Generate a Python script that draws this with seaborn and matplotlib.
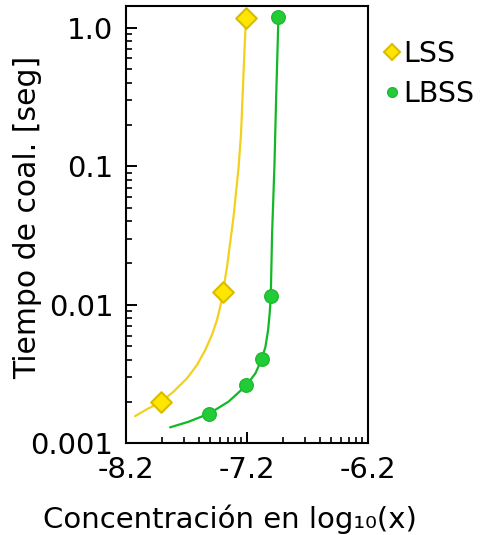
import numpy as np
import pandas as pd
import matplotlib
matplotlib.use("Agg")
import matplotlib.pyplot as plt
import seaborn as sns
from matplotlib.ticker import FixedLocator, FixedFormatter, NullFormatter
from matplotlib.lines import Line2D

# Measured points (x in log10 concentration, y in seconds)
lss_x = [-7.912, -7.398, -7.207]
lss_y = [0.00198, 0.0123, 1.17]
lbss_x = [-7.511, -7.204, -7.077, -7.002, -6.939]
lbss_y = [0.00164, 0.00262, 0.00404, 0.0116, 1.19]

# Fitted curves
lss_fit_x = [-8.125, -8.028, -7.912, -7.807, -7.696, -7.613, -7.544, -7.489, -7.447,
             -7.414, -7.398, -7.364, -7.310, -7.268, -7.248, -7.231, -7.217, -7.207]
lss_fit_y = [0.00157, 0.00176, 0.00198, 0.00236, 0.00294, 0.00367, 0.00472, 0.00605, 0.00776,
             0.01025, 0.0123, 0.0188, 0.0433, 0.0993, 0.173, 0.397, 0.773, 1.17]
lbss_fit_x = [-7.835, -7.683, -7.511, -7.351, -7.204, -7.129, -7.077, -7.046, -7.024,
              -7.011, -7.002, -6.991, -6.972, -6.958, -6.944, -6.939]
lbss_fit_y = [0.001304, 0.00143, 0.00164, 0.00200, 0.00262, 0.00320, 0.00404, 0.00498, 0.00658,
              0.00869, 0.0116, 0.0328, 0.0993, 0.301, 0.817, 1.19]

x_major = [-8.2, -7.2, -6.2]
x_labels = ["-8.2", "-7.2", "-6.2"]
y_major = [1.0, 0.1, 0.01, 0.001]
y_labels = ["1.0", "0.1", "0.01", "0.001"]
series = ["LSS", "LBSS"]

YEL_LINE = "#F2D01E"
YEL_FILL = "#FFE600"
YEL_EDGE = "#D9BC00"
GRN_LINE = "#12B826"
GRN_FILL = "#22CC36"
GRN_EDGE = "#1DBB30"

sns.set_theme(style="white")
plt.rcParams['font.family'] = ['DejaVu Sans']
plt.rcParams['text.color'] = 'black'

FS = 21

fig = plt.figure(figsize=(4.81, 5.35), dpi=100)
ax = fig.add_axes([126/481, 1 - 443.3/535, (367.7 - 126)/481, (443.3 - 6)/535])

df_lss_fit = pd.DataFrame({"x": lss_fit_x, "y": lss_fit_y})
df_lbss_fit = pd.DataFrame({"x": lbss_fit_x, "y": lbss_fit_y})
sns.lineplot(data=df_lss_fit, x="x", y="y", sort=False, estimator=None,
             color=YEL_LINE, linewidth=1.6, ax=ax)
sns.lineplot(data=df_lbss_fit, x="x", y="y", sort=False, estimator=None,
             color=GRN_LINE, linewidth=1.6, ax=ax)

df_lss = pd.DataFrame({"x": lss_x, "y": lss_y})
df_lbss = pd.DataFrame({"x": lbss_x, "y": lbss_y})
sns.scatterplot(data=df_lss, x="x", y="y", marker="D", s=110, color=YEL_FILL,
                edgecolor=YEL_EDGE, linewidth=1.5, ax=ax, zorder=5)
sns.scatterplot(data=df_lbss, x="x", y="y", marker="o", s=95, color=GRN_FILL,
                edgecolor=GRN_EDGE, linewidth=1.0, ax=ax, zorder=5)

ax.set_yscale("log")
ax.set_xlim(-8.2, -6.2)
ax.set_ylim(0.001, 10 ** 0.157)

ax.xaxis.set_major_locator(FixedLocator(x_major))
ax.xaxis.set_major_formatter(FixedFormatter(x_labels))
minor_x = [m + np.log10(k) for m in x_major[:-1] for k in range(2, 10)]
ax.xaxis.set_minor_locator(FixedLocator(minor_x))
ax.xaxis.set_minor_formatter(NullFormatter())

ax.yaxis.set_major_locator(FixedLocator(y_major))
ax.yaxis.set_major_formatter(FixedFormatter(y_labels))
minor_y = [d * k for d in [0.001, 0.01, 0.1] for k in range(2, 10)]
ax.yaxis.set_minor_locator(FixedLocator(minor_y))
ax.yaxis.set_minor_formatter(NullFormatter())

ax.tick_params(axis="both", which="major", direction="in", length=8, width=1.4,
               labelsize=FS, pad=9, color="black", labelcolor="black",
               bottom=True, left=True, top=False, right=False)
ax.tick_params(axis="both", which="minor", direction="in", length=4, width=1.2,
               color="black", bottom=True, left=True, top=False, right=False)

for sp in ax.spines.values():
    sp.set_visible(True)
    sp.set_color("black")
    sp.set_linewidth(1.5)

ax.set_xlabel("Concentración en log₁₀(x)", fontsize=FS, color="black")
ax.xaxis.set_label_coords(0.43, -0.141)
ax.set_ylabel("Tiempo de coal. [seg]", fontsize=21.5, color="black")
ax.yaxis.set_label_coords(-0.3475, 0.516)

handles = [
    Line2D([], [], linestyle="none", marker="D", markersize=8,
           markerfacecolor=YEL_FILL, markeredgecolor=YEL_EDGE, markeredgewidth=1.5),
    Line2D([], [], linestyle="none", marker="o", markersize=7,
           markerfacecolor=GRN_FILL, markeredgecolor=GRN_EDGE, markeredgewidth=1.0),
]
fig.legend(handles, series, loc="upper left", bbox_to_anchor=(383/481, 1 - 40/535),
           frameon=False, fontsize=20.5, handlelength=0.6, handletextpad=0.1,
           labelspacing=0.42, borderaxespad=0, borderpad=0, labelcolor="black")

fig.savefig("out.png", dpi=100)
